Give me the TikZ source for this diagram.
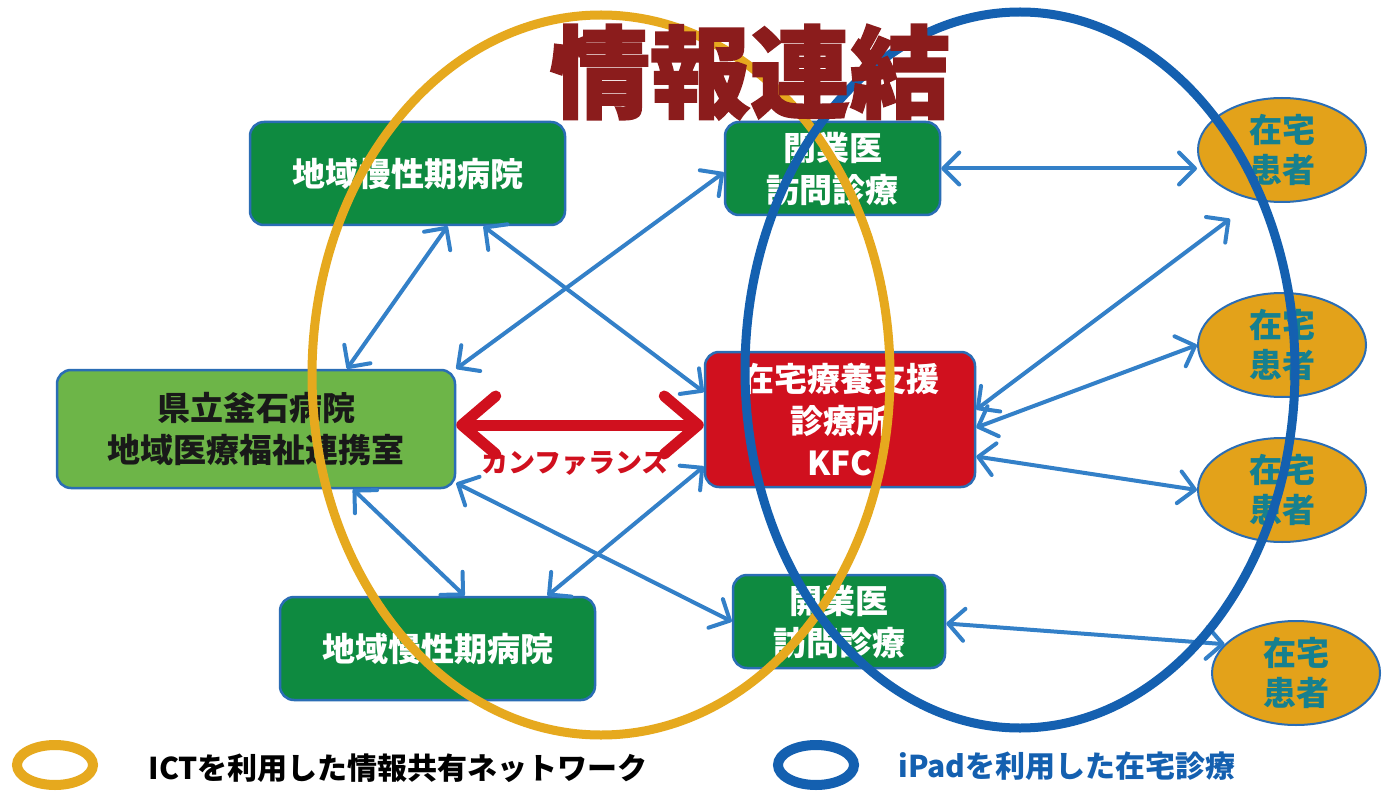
\documentclass[tikz,border=0pt]{standalone}
\usepackage{fontspec}
\setmainfont{Noto Sans CJK JP}
\newfontfamily\titlefont[BoldFeatures={FakeBold=2}]{Noto Sans CJK JP}
\usetikzlibrary{arrows.meta,shapes.geometric,calc}
\definecolor{dgreen}{HTML}{0E8A40}
\definecolor{lgreen}{HTML}{6DB548}
\definecolor{kred}{HTML}{D0101E}
\definecolor{bord}{HTML}{2A6DB5}
\definecolor{ayellow}{HTML}{E6A91E}
\definecolor{ablue}{HTML}{1460B0}
\definecolor{arr}{HTML}{3380C8}
\definecolor{ptfill}{HTML}{E3A21A}
\definecolor{ptext}{HTML}{16808F}
\definecolor{titlered}{HTML}{8B1C1C}
\begin{document}
\begin{tikzpicture}[x=1pt,y=-1pt,
  box/.style={draw=bord,line width=2.5pt,rounded corners=14pt,align=center,inner sep=0pt,
    font=\bfseries\fontsize{33}{42}\selectfont},
  patient/.style={ellipse,draw=bord,line width=2pt,fill=ptfill,minimum width=168pt,minimum height=104pt,
    inner sep=0pt,align=center,text=ptext,font=\bfseries\fontsize{33}{40}\selectfont},
  link/.style={draw=arr,line width=4pt,{Straight Barb[length=16pt,width=32pt,round]}-{Straight Barb[length=16pt,width=32pt,round]}},
  bigring/.style={line width=9pt},
  legring/.style={line width=10pt}]
\useasboundingbox (0,0) rectangle (1386,794);
\fill[white] (0,0) rectangle (1386,794);
% boxes
\node[box,fill=dgreen,text=white,minimum width=315pt,minimum height=103pt] (TL) at (407.5,173.5) {地域慢性期病院};
\node[box,fill=dgreen,text=white,minimum width=215pt,minimum height=93pt] (TR) at (832.5,168.5) {開業医\\訪問診療};
\node[box,fill=lgreen,text=black!90,minimum width=398pt,minimum height=118pt] (KR) at (256,429) {県立釜石病院\\地域医療福祉連携室};
\node[box,fill=kred,text=white,minimum width=270pt,minimum height=135pt] (KFC) at (840,419.5) {在宅療養支援\\診療所\\KFC};
\node[box,fill=dgreen,text=white,minimum width=212pt,minimum height=93pt] (BR) at (839,621.5) {開業医\\訪問診療};
\node[box,fill=dgreen,text=white,minimum width=315pt,minimum height=103pt] (BL) at (437.5,648.5) {地域慢性期病院};
% patients
\node[patient] (P1) at (1282,150) {在宅\\患者};
\node[patient] (P2) at (1282,345) {在宅\\患者};
\node[patient] (P3) at (1282,490) {在宅\\患者};
\node[patient] (P4) at (1296,673) {在宅\\患者};
% links
\draw[link] ([xshift=40pt]TL.south) -- ([xshift=91pt]KR.north);
\draw[link] ([xshift=76pt]TL.south) -- ([yshift=27.5pt]KFC.west);
\draw[link] ([yshift=-4pt]TR.west) -- (KR.north east);
\draw[link] ([xshift=97pt]KR.south) -- ([xshift=27pt]BL.north);
\draw[link] ([yshift=-54pt]KR.east) -- (BR.west);
\draw[link] ([yshift=-47pt]KFC.west) -- ([xshift=110pt]BL.north);
\draw[link] (TR.east) -- (TR.east -| P1.west);
\draw[link] ([yshift=10pt]KFC.east) -- ([shift={(-52,16)}]P1.south);
\draw[link] ([yshift=-8pt]KFC.east) -- (P2.west);
\draw[link] ([yshift=-37pt]KFC.east) -- (P3.west);
\draw[link] ([yshift=-2pt]BR.east) -- (P4.158);
% conference arrow
\draw[draw=kred,line width=11pt,{Straight Barb[length=34pt,width=58pt,round]}-{Straight Barb[length=34pt,width=58pt,round]}]
  ([yshift=4pt]KR.east) -- ([yshift=4pt]KR.east -| KFC.west);
\node[text=kred,font=\bfseries\fontsize{27}{27}\selectfont] (conf) at (575,463) {カンファランス};
% big ellipses
\draw[ayellow,bigring] (601,375) ellipse [x radius=289pt,y radius=360pt];
\draw[ablue,bigring] (1020,370) ellipse [x radius=275pt,y radius=358pt];
% title
\node[text=titlered,font=\titlefont\bfseries\fontsize{100}{100}\selectfont] (T) at (750,72) {情報連結};
% legend
\draw[ayellow,legring] (55,765) ellipse [x radius=38pt,y radius=20pt];
\node[anchor=west,font=\bfseries\fontsize{30}{30}\selectfont,text=black] (L1) at (145,768) {ICTを利用した情報共有ネットワーク};
\draw[ablue,legring] (816,765) ellipse [x radius=38pt,y radius=20pt];
\node[anchor=west,font=\bfseries\fontsize{30}{30}\selectfont,text=ablue] (L2) at (895,766) {iPadを利用した在宅診療};
\end{tikzpicture}
\end{document}
